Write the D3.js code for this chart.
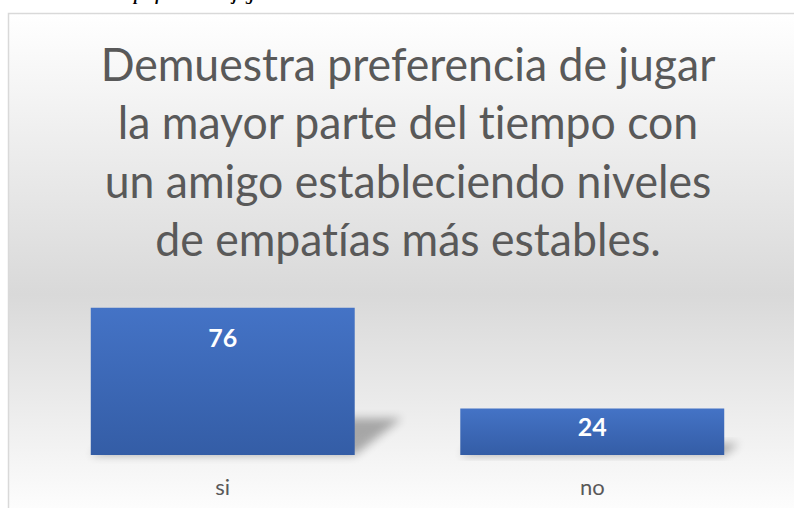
<!DOCTYPE html>
<html>
<head>
<meta charset="utf-8">
<script src="https://cdn.jsdelivr.net/npm/d3@7"></script>
<style>
  html, body { margin: 0; padding: 0; background: #fff; }
  svg { display: block; }
  text { font-variant-ligatures: none; font-feature-settings: "liga" 0, "clig" 0; }
</style>
</head>
<body>
<div id="chart"></div>
<script>
// Data
const categories = ["si", "no"];
const values = [76, 24];
const titleLines = [
  "Demuestra preferencia de jugar",
  "la mayor parte del tiempo con",
  "un amigo estableciendo niveles",
  "de empatías más estables."
];
const captionText = "Demuestra preferencia de jugar";

const W = 794, H = 508;
const font = "Lato, 'Open Sans', sans-serif";

const svg = d3.select("#chart")
  .append("svg")
  .attr("width", W)
  .attr("height", H);

const defs = svg.append("defs");

// chart area background: white -> grey -> white
const bg = defs.append("linearGradient")
  .attr("id", "bg")
  .attr("x1", 0).attr("y1", 0).attr("x2", 0).attr("y2", 1);
bg.append("stop").attr("offset", "0%").attr("stop-color", "#ffffff");
bg.append("stop").attr("offset", "55%").attr("stop-color", "#d9d9d9");
bg.append("stop").attr("offset", "100%").attr("stop-color", "#ffffff");

// bar fill
const barGrad = defs.append("linearGradient")
  .attr("id", "barGrad")
  .attr("x1", 0).attr("y1", 0).attr("x2", 0).attr("y2", 1);
barGrad.append("stop").attr("offset", "0%").attr("stop-color", "#4473c6");
barGrad.append("stop").attr("offset", "100%").attr("stop-color", "#345da6");

const blur = defs.append("filter")
  .attr("id", "blur")
  .attr("x", "-50%").attr("y", "-50%")
  .attr("width", "200%").attr("height", "200%");
blur.append("feGaussianBlur").attr("stdDeviation", 5);

// caption from the page above, mostly cut off
svg.append("text")
  .attr("x", 58)
  .attr("y", 0)
  .attr("font-family", "'Liberation Serif', serif")
  .attr("font-weight", "bold")
  .attr("font-style", "italic")
  .attr("font-size", 16)
  .attr("fill", "#000")
  .text(captionText);

// chart frame
svg.append("rect")
  .attr("x", 8.5)
  .attr("y", 13.5)
  .attr("width", 800)
  .attr("height", 510)
  .attr("fill", "url(#bg)")
  .attr("stroke", "#d9d9d9")
  .attr("stroke-width", 1.5);

// title
const title = svg.append("g").attr("class", "title");
const tl = title.selectAll("text")
  .data(titleLines)
  .enter()
  .append("text")
  .attr("x", 408)
  .attr("y", (d, i) => 81 + i * 58.5)
  .attr("text-anchor", "middle")
  .attr("font-family", font)
  .attr("font-size", 46)
  .attr("fill", "#595959")
  .text(d => d);

// squeeze to the width of the original title (Calibri is narrow)
const w0 = tl.nodes()[0].getComputedTextLength();
const sx = 615 / w0;
title.attr("transform", "translate(408,0) scale(" + sx + ",1) translate(-408,0)");

// scales
const x = d3.scaleBand()
  .domain(categories)
  .range([38, 777])
  .paddingInner(0.2857)
  .paddingOuter(0.1428);

const y = d3.scaleLinear()
  .domain([0, 80])
  .range([455, 300]);

const bars = categories.map((c, i) => ({ cat: c, val: values[i] }));

// perspective shadows
svg.append("g")
  .selectAll("path")
  .data(bars)
  .enter()
  .append("path")
  .attr("d", d => {
    const x0 = x(d.cat), x1 = x(d.cat) + x.bandwidth();
    const b = y(0), h = y(0) - y(d.val);
    const dx = h * 0.32, dy = h * 0.25;
    return "M" + x0 + "," + b + "L" + x1 + "," + b +
      "L" + (x1 + dx) + "," + (b - dy) + "L" + (x0 + dx) + "," + (b - dy) + "Z";
  })
  .attr("fill", "#000")
  .attr("opacity", 0.3)
  .attr("filter", "url(#blur)");

// bars
svg.append("g")
  .selectAll("rect")
  .data(bars)
  .enter()
  .append("rect")
  .attr("x", d => x(d.cat))
  .attr("y", d => y(d.val))
  .attr("width", x.bandwidth())
  .attr("height", d => y(0) - y(d.val))
  .attr("fill", "url(#barGrad)");

// value labels
svg.append("g")
  .selectAll("text")
  .data(bars)
  .enter()
  .append("text")
  .attr("x", d => x(d.cat) + x.bandwidth() / 2)
  .attr("y", d => y(d.val) + Math.min(39, (y(0) - y(d.val)) * 0.6))
  .attr("text-anchor", "middle")
  .attr("font-family", font)
  .attr("font-weight", "bold")
  .attr("font-size", 25)
  .attr("fill", "#ffffff")
  .text(d => d.val);

// category axis
const xAxis = d3.axisBottom(x).tickSize(0).tickPadding(24);
const ax = svg.append("g")
  .attr("transform", "translate(0," + y(0) + ")")
  .call(xAxis);
ax.select(".domain").remove();
ax.selectAll("text")
  .attr("font-family", font)
  .attr("font-size", 22)
  .attr("fill", "#595959");
</script>
</body>
</html>
